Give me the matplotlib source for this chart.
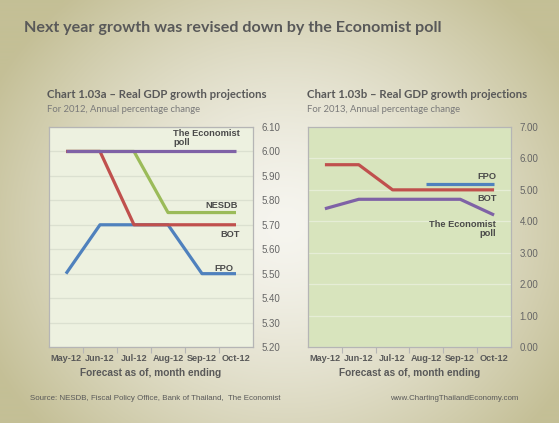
#!/usr/bin/python
# -*- coding: utf-8 -*-
"""
Real GDP growth projections, 2012 and 2013 (two panels)
"""

import numpy as np
import matplotlib
matplotlib.use('Agg')
import matplotlib.pyplot as plt
from matplotlib.ticker import FixedLocator

# -----------------------------------------------------------------------
months = ['May-12', 'Jun-12', 'Jul-12', 'Aug-12', 'Sep-12', 'Oct-12']

# 2012 projections
econ_2012  = [6.00, 6.00, 6.00, 6.00, 6.00, 6.00]
nesdb_2012 = [6.00, 6.00, 6.00, 5.75, 5.75, 5.75]
bot_2012   = [6.00, 6.00, 5.70, 5.70, 5.70, 5.70]
fpo_2012   = [5.50, 5.70, 5.70, 5.70, 5.50, 5.50]

# 2013 projections (FPO only from Aug)
bot_2013   = [5.80, 5.80, 5.00, 5.00, 5.00, 5.00]
fpo_2013   = [np.nan, np.nan, np.nan, 5.20, 5.20, 5.20]
econ_2013  = [4.40, 4.70, 4.70, 4.70, 4.70, 4.20]
# -----------------------------------------------------------------------

PURPLE = '#7f62a6'
RED    = '#c0504d'
GREEN  = '#9bbb59'
BLUE   = '#4f81bd'
DARK   = '#595959'
LBL    = '#4a4a4a'


# -----------------------------------------------------------------------
def background(fig):
    """ radial khaki -> white gradient behind everything """
    w, h = 559, 423
    yy, xx = np.mgrid[0:h, 0:w]
    d = np.sqrt(((xx - 285) / 330.) ** 2 + ((yy - 225) / 300.) ** 2)
    t = np.clip(d, 0, 1) ** 1.4
    c0 = np.array([0xf6, 0xf5, 0xef]) / 255.
    c1 = np.array([0xc4, 0xbf, 0x96]) / 255.
    img = c0[None, None, :] * (1 - t[..., None]) + c1[None, None, :] * t[..., None]
    bg = fig.add_axes([0, 0, 1, 1], zorder=-10)
    bg.imshow(img, aspect='auto', extent=[0, 1, 0, 1])
    bg.axis('off')
# -----------------------------------------------------------------------


# -----------------------------------------------------------------------
def setup_panel(ax, face, grid, ylo, yhi, step):
    ax.set_facecolor(face)
    x = np.arange(len(months))
    ax.set_xlim(-0.5, len(months) - 0.5)
    ax.set_ylim(ylo, yhi)
    yt = np.arange(ylo, yhi + step / 2, step)
    ax.set_yticks(yt)
    ax.set_yticklabels(['%.2f' % v for v in yt])
    ax.yaxis.tick_right()
    ax.tick_params(axis='y', length=0, pad=6, labelsize=7, labelcolor='#666666')
    ax.set_xticks(x)
    ax.set_xticklabels(months, fontweight='bold')
    ax.tick_params(axis='x', which='major', length=0, pad=5, labelsize=6.6,
                   labelcolor=DARK)
    ax.xaxis.set_minor_locator(FixedLocator(np.arange(0.5, len(months) - 1, 1.0)))
    ax.tick_params(axis='x', which='minor', length=4, direction='out',
                   color='#b5b5b5', width=0.8)
    ax.grid(axis='y', color=grid, linewidth=0.9)
    ax.set_axisbelow(True)
    for s in ax.spines.values():
        s.set_color('#b5b5b5')
        s.set_linewidth(0.9)
    ax.set_xlabel('Forecast as of, month ending', fontsize=7.3,
                  fontweight='bold', color=DARK, labelpad=4)
    for t in ax.get_xticklabels() + ax.get_yticklabels():
        t.set_family('Liberation Sans')
    ax.xaxis.label.set_family('Liberation Sans')
    return x
# -----------------------------------------------------------------------


def series_label(ax, x, y, s, ha):
    ax.text(x, y, s, ha=ha, va='center', fontsize=6.7, fontweight='bold',
            color=LBL, family='Liberation Sans', linespacing=1.1,
            multialignment=ha)


# -----------------------------------------------------------------------
def main():
    fig = plt.figure(figsize=(5.59, 4.23), dpi=100)
    background(fig)

    fig.text(24 / 559., 1 - 28 / 423., 'Next year growth was revised down by the Economist poll',
             fontsize=11.6, fontweight='bold', color=DARK, family='Lato',
             va='center', ha='left')

    # ---- left panel
    ax1 = fig.add_axes([49 / 559., 1 - 347 / 423., 204 / 559., 220 / 423.])
    x = setup_panel(ax1, '#edf1e0', '#dbe0d0', 5.20, 6.10, 0.10)
    lw = 2.3
    ax1.plot(x, nesdb_2012, color=GREEN, lw=lw, solid_capstyle='butt')
    ax1.plot(x, fpo_2012, color=BLUE, lw=lw, solid_capstyle='butt')
    ax1.plot(x, bot_2012, color=RED, lw=lw, solid_capstyle='butt')
    ax1.plot(x, econ_2012, color=PURPLE, lw=lw, solid_capstyle='butt')
    series_label(ax1, 3.15, 6.055, 'The Economist\npoll', 'left')
    series_label(ax1, 5.06, 5.777, 'NESDB', 'right')
    series_label(ax1, 5.12, 5.662, 'BOT', 'right')
    series_label(ax1, 4.91, 5.523, 'FPO', 'right')

    fig.text(47 / 559., 1 - 95 / 423., 'Chart 1.03a \u2013 Real GDP growth projections',
             fontsize=8.2, fontweight='bold', color=DARK, family='Lato', va='center')
    fig.text(47 / 559., 1 - 109 / 423., 'For 2012, Annual percentage change',
             fontsize=6.8, color='#7a7a7a', family='Lato', va='center')

    # ---- right panel
    ax2 = fig.add_axes([308 / 559., 1 - 347 / 423., 203 / 559., 220 / 423.])
    x = setup_panel(ax2, '#d8e4bd', '#e6edd6', 0.0, 7.0, 1.0)
    ax2.plot(x, bot_2013, color=RED, lw=lw, solid_capstyle='butt')
    ax2.plot(x, fpo_2013, color=BLUE, lw=lw, solid_capstyle='butt')
    ax2.plot(x, econ_2013, color=PURPLE, lw=lw, solid_capstyle='butt')
    series_label(ax2, 5.06, 5.41, 'FPO', 'right')
    series_label(ax2, 5.09, 4.74, 'BOT', 'right')
    series_label(ax2, 5.06, 3.75, 'The Economist\npoll', 'right')

    fig.text(307 / 559., 1 - 95 / 423., 'Chart 1.03b \u2013 Real GDP growth projections',
             fontsize=8.2, fontweight='bold', color=DARK, family='Lato', va='center')
    fig.text(307 / 559., 1 - 109 / 423., 'For 2013, Annual percentage change',
             fontsize=6.8, color='#7a7a7a', family='Lato', va='center')

    # ---- footer
    fig.text(30 / 559., 1 - 398 / 423., 'Source: NESDB, Fiscal Policy Office, Bank of Thailand,  The Economist',
             fontsize=5.7, color=DARK, family='Liberation Sans', va='center')
    fig.text(518 / 559., 1 - 398 / 423., 'www.ChartingThailandEconomy.com',
             fontsize=5.7, color=DARK, family='Liberation Sans', va='center', ha='right')

    fig.savefig('out.png', dpi=100)


if __name__ == '__main__':
    main()
